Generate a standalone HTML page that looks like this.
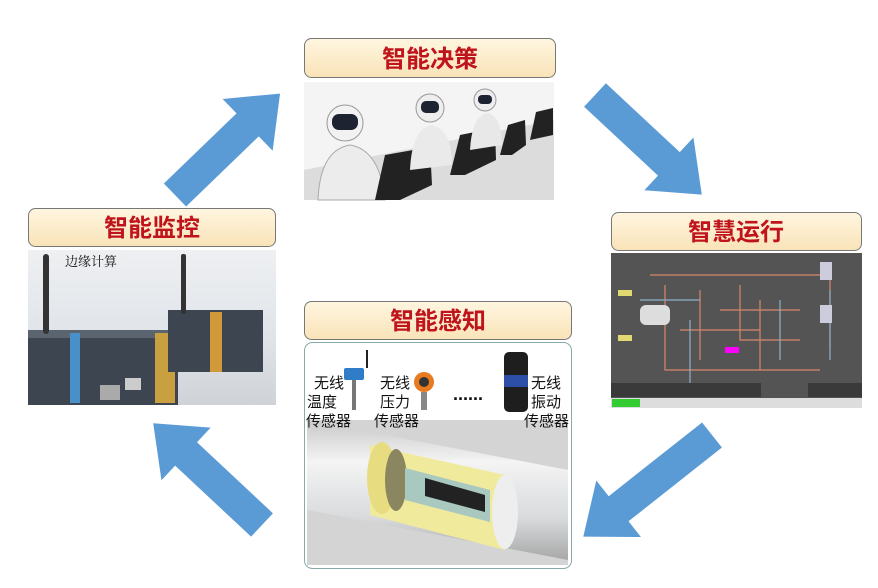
<!DOCTYPE html>
<html><head><meta charset="utf-8"><style>
body{margin:0;background:#fff;width:878px;height:583px;overflow:hidden;font-family:"Liberation Sans","Noto Sans CJK SC",sans-serif}
</style></head><body>
<svg width="878" height="583" viewBox="0 0 878 583" xmlns="http://www.w3.org/2000/svg">
<defs>
<linearGradient id="lab" x1="0" y1="0" x2="0" y2="1"><stop offset="0" stop-color="#fff6e0"/><stop offset="1" stop-color="#f9e3b8"/></linearGradient>
<linearGradient id="pipe" x1="0" y1="0" x2="0" y2="1"><stop offset="0" stop-color="#c8c8c8"/><stop offset="0.3" stop-color="#f4f4f4"/><stop offset="0.7" stop-color="#d8dadc"/><stop offset="1" stop-color="#a8a8a8"/></linearGradient>
<linearGradient id="edge" x1="0" y1="0" x2="0" y2="1"><stop offset="0" stop-color="#eef0f2"/><stop offset="0.6" stop-color="#dfe3e8"/><stop offset="1" stop-color="#cfd3d8"/></linearGradient>
</defs>

<g fill="#5b9bd5">
<polygon transform="translate(175,195) rotate(-44)" points="0,-16 101,-16 101,-36 146,0 101,36 101,16 0,16"/>
<polygon transform="translate(595,95) rotate(43)" points="0,-16 101,-16 101,-36 146,0 101,36 101,16 0,16"/>
<polygon transform="translate(712,435) rotate(141.7)" points="0,-16 119,-16 119,-36 164,0 119,36 119,16 0,16"/>
<polygon transform="translate(262,525) rotate(-136.9)" points="0,-16 104,-16 104,-36 149,0 104,36 104,16 0,16"/>
</g>

<rect x="304.5" y="38.5" width="251" height="39" rx="7" fill="url(#lab)" stroke="#777"/>
<text x="430" y="67" text-anchor="middle" font-size="24" font-weight="bold" fill="#c0141c">智能决策</text>
<g>
<rect x="304" y="82" width="250" height="118" fill="#f4f4f4"/>
<path d="M304 170 L554 120 L554 200 L304 200Z" fill="#dcdcdc"/>
<circle cx="345" cy="123" r="18" fill="#f2f2f2" stroke="#999"/>
<rect x="332" y="114" width="26" height="16" rx="7" fill="#1d2330"/>
<path d="M318 200 Q320 150 350 145 Q380 150 385 200Z" fill="#ececec" stroke="#aaa"/>
<polygon points="375,200 385,155 430,147 432,185 400,200" fill="#222"/>
<circle cx="430" cy="108" r="14" fill="#eee" stroke="#999"/>
<rect x="421" y="101" width="18" height="12" rx="5" fill="#1d2330"/>
<path d="M410 170 Q412 128 432 125 Q452 130 452 165Z" fill="#eaeaea"/>
<polygon points="450,175 460,135 495,128 496,160 465,175" fill="#222"/>
<circle cx="485" cy="100" r="11" fill="#eee" stroke="#999"/>
<rect x="478" y="95" width="14" height="9" rx="4" fill="#1d2330"/>
<path d="M470 150 Q472 115 488 113 Q502 118 502 145Z" fill="#e8e8e8"/>
<polygon points="500,155 508,125 525,120 526,145 512,155" fill="#222"/>
<polygon points="530,140 536,112 553,108 553,135" fill="#222"/>
</g>

<rect x="28.5" y="208.5" width="247" height="38" rx="7" fill="url(#lab)" stroke="#777"/>
<text x="152" y="236" text-anchor="middle" font-size="24" font-weight="bold" fill="#c0141c">智能监控</text>
<rect x="28" y="250" width="248" height="155" fill="url(#edge)"/>
<rect x="28" y="330" width="150" height="75" fill="#3d4650"/>
<rect x="28" y="330" width="150" height="8" fill="#5a6570"/>
<rect x="70" y="333" width="10" height="70" fill="#4a90c8"/>
<rect x="155" y="333" width="20" height="70" fill="#c8a040"/>
<rect x="168" y="310" width="95" height="62" fill="#3d4650"/>
<rect x="210" y="312" width="12" height="60" fill="#d09a3a"/>
<rect x="100" y="385" width="20" height="15" fill="#aaa"/>
<rect x="125" y="378" width="16" height="12" fill="#ccc"/>
<rect x="43" y="254" width="6" height="80" rx="3" fill="#333"/>
<rect x="181" y="254" width="5" height="60" rx="2" fill="#333"/>
<text x="65" y="266" font-size="13" fill="#111" font-family="'Liberation Serif','Noto Serif CJK SC',serif">边缘计算</text>

<rect x="611.5" y="212.5" width="250" height="38" rx="7" fill="url(#lab)" stroke="#777"/>
<text x="736" y="240" text-anchor="middle" font-size="24" font-weight="bold" fill="#c0141c">智慧运行</text>
<rect x="611" y="253" width="251" height="155" fill="#545454"/>
<g fill="none" stroke-width="1.2">
<path d="M650 275 H830 V350 M665 285 V370 H820 M700 290 V360 M740 285 V340 H800 M720 310 H800 M760 300 V370 M680 330 H760" stroke="#d8866a"/>
<path d="M640 300 H700 M690 320 V390 H760 M780 300 V360 M830 290 V360" stroke="#8fb0c8"/>
</g>
<rect x="640" y="305" width="30" height="20" rx="6" fill="#ddd"/>
<rect x="820" y="262" width="12" height="18" fill="#ccd"/>
<rect x="820" y="305" width="12" height="18" fill="#ccd"/>
<rect x="618" y="290" width="14" height="6" fill="#e0d870"/>
<rect x="618" y="335" width="14" height="6" fill="#e0d870"/>
<rect x="725" y="347" width="14" height="6" fill="#f0f"/>
<rect x="611" y="383" width="150" height="14" fill="#3a3a3a"/>
<rect x="808" y="383" width="54" height="14" fill="#3a3a3a"/>
<rect x="611" y="398" width="251" height="10" fill="#ddd"/>
<rect x="612" y="399" width="28" height="8" fill="#3c3"/>

<rect x="304.5" y="301.5" width="267" height="38" rx="7" fill="url(#lab)" stroke="#777"/>
<text x="438" y="329" text-anchor="middle" font-size="24" font-weight="bold" fill="#c0141c">智能感知</text>
<rect x="304.5" y="342.5" width="267" height="226" rx="8" fill="#fff" stroke="#8aa"/>
<rect x="307" y="420" width="261" height="145" fill="#d4d4d4"/>
<path d="M307 420 L568 470 L568 560 L307 510Z" fill="url(#pipe)"/>
<polygon points="370,445 505,475 505,550 370,515" fill="#f0ea9c"/>
<ellipse cx="382" cy="478" rx="15" ry="36" fill="#e8dc80"/>
<ellipse cx="396" cy="480" rx="11" ry="31" fill="#8a8660"/>
<polygon points="405,468 490,490 490,522 405,500" fill="#a8c8c0"/>
<polygon points="425,478 485,495 485,512 425,496" fill="#222"/>
<ellipse cx="505" cy="512" rx="13" ry="37" fill="#eee"/>
<g font-size="15" fill="#111">
<text x="314" y="388">无线</text><text x="307" y="407">温度</text><text x="306" y="426">传感器</text>
<text x="380" y="388">无线</text><text x="380" y="407">压力</text><text x="374" y="426">传感器</text>
<text x="531" y="388">无线</text><text x="531" y="407">振动</text><text x="524" y="426">传感器</text>
</g>
<rect x="344" y="368" width="20" height="12" rx="2" fill="#2f7cc8"/>
<rect x="352" y="380" width="4" height="30" fill="#777"/>
<line x1="367" y1="350" x2="367" y2="368" stroke="#222" stroke-width="2"/>
<circle cx="424" cy="382" r="10" fill="#e87a20"/>
<circle cx="424" cy="382" r="5" fill="#333"/>
<rect x="421" y="392" width="6" height="18" fill="#888"/>
<text x="453" y="400" font-size="18" font-weight="bold" fill="#111">......</text>
<rect x="504" y="352" width="24" height="60" rx="5" fill="#1e1e1e"/>
<rect x="504" y="375" width="24" height="12" fill="#2d4fa8"/>
</svg>
</body></html>
